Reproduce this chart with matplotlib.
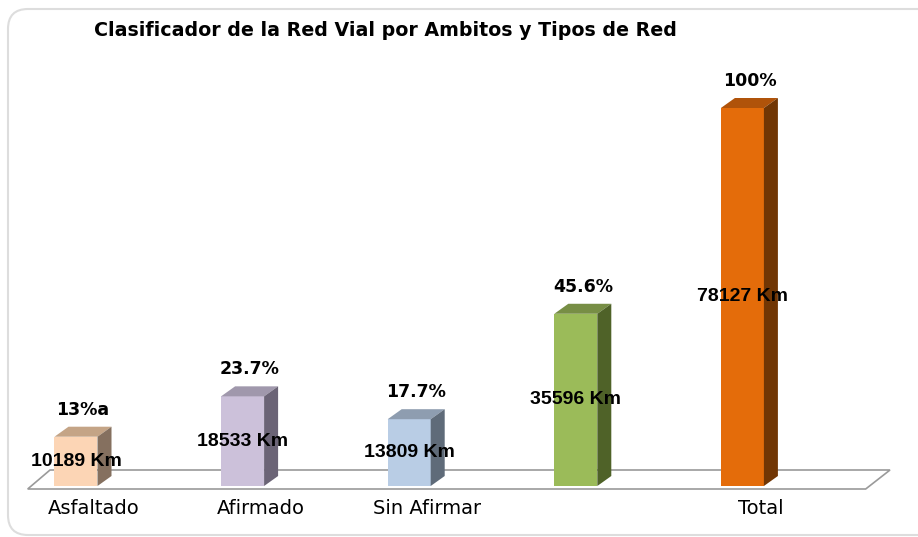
import matplotlib
matplotlib.use("Agg")
import matplotlib.pyplot as plt
from matplotlib.patches import Polygon, FancyBboxPatch
from matplotlib.transforms import IdentityTransform

# Datos del grafico
categorias = ["Asfaltado", "Afirmado", "Sin Afirmar", "", "Total"]
kilometros = [10189, 18533, 13809, 35596, 78127]
porcentajes = ["13%a", "23.7%", "17.7%", "45.6%", "100%"]

# colores: frente, tapa, lado
col_frente = ["#FCD5B5", "#CCC1DA", "#B9CDE5", "#9BBB59", "#E46C0A"]
col_tapa = ["#C4A486", "#A098AC", "#8E9DB0", "#778E45", "#B0530A"]
col_lado = ["#85705F", "#6B6476", "#5F6B79", "#4F6228", "#713604"]

W, H = 918, 537
fig = plt.figure(figsize=(W / 100, H / 100), dpi=100)
ax = fig.add_axes([0, 0, 1, 1])

# escala: pixeles por unidad
px_x = 166.6          # pixeles entre barras
x0_px = 76            # centro de la primera barra
base_px = 486         # linea base (desde arriba)
km_px = max(kilometros) / 378.0   # km por pixel

ax.set_xlim(-x0_px / px_x, (W - x0_px) / px_x)
ax.set_ylim((base_px - H) * km_px, base_px * km_px)
ax.axis("off")

ancho = 43 / px_x
dx = 14 / px_x
dy = 10 * km_px

# piso
n = len(categorias)
piso = Polygon([(-0.29, -3 * km_px), (n - 1 + 0.74, -3 * km_px),
                (n - 1 + 0.886, 16 * km_px), (-0.156, 16 * km_px)],
               closed=True, facecolor="white", edgecolor="#9A9A9A", lw=1.2, zorder=1)
ax.add_patch(piso)

for i, (km, pc) in enumerate(zip(kilometros, porcentajes)):
    xl = i - ancho / 2
    xr = i + ancho / 2
    ax.bar(i, km, width=ancho, color=col_frente[i], zorder=3)
    tapa = Polygon([(xl, km), (xr, km), (xr + dx, km + dy), (xl + dx, km + dy)],
                   closed=True, facecolor=col_tapa[i], edgecolor="none", zorder=3)
    lado = Polygon([(xr, 0), (xr + dx, dy), (xr + dx, km + dy), (xr, km)],
                   closed=True, facecolor=col_lado[i], edgecolor="none", zorder=3)
    ax.add_patch(tapa)
    ax.add_patch(lado)
    # etiquetas
    ax.text(i + dx / 2, km + 27 * km_px, pc, ha="center", va="center",
            fontsize=12.5, fontweight="bold", color="black", zorder=5)
    ax.text(i, km / 2, f"{km} Km", ha="center", va="center",
            fontsize=14, fontweight="bold", family="Liberation Sans",
            color="black", zorder=5)
    if categorias[i]:
        ax.text(i + 18 / px_x, -22 * km_px, categorias[i], ha="center", va="center",
                fontsize=14, color="black", zorder=5)

# titulo
fig.text(94 / W, 1 - 31 / H, "Clasificador de la Red Vial por Ambitos y Tipos de Red",
         ha="left", va="center", fontsize=13.7, fontweight="bold")

# marco redondeado (en pixeles)
marco = FancyBboxPatch((8, 2), 940, 526,
                       boxstyle="round,pad=0,rounding_size=20",
                       transform=IdentityTransform(), facecolor="none",
                       edgecolor="#DDDDDD", lw=1.5, zorder=0)
fig.patches.append(marco)

fig.savefig("out.png", dpi=100)
